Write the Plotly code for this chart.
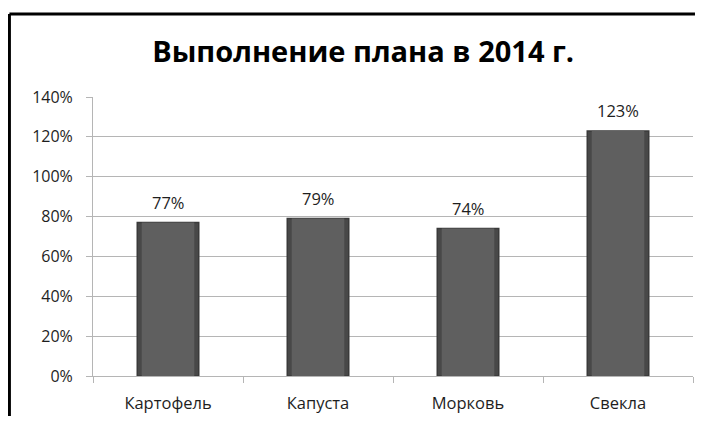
import plotly.graph_objects as go

categories = ["Картофель", "Капуста", "Морковь", "Свекла"]
values = [0.77, 0.79, 0.74, 1.23]
value_labels = ["77%", "79%", "74%", "123%"]
y_ticks = [0, 0.2, 0.4, 0.6, 0.8, 1.0, 1.2, 1.4]
y_tick_labels = ["0%", "20%", "40%", "60%", "80%", "100%", "120%", "140%"]

FONT = "Open Sans, Liberation Sans, sans-serif"
TEXT_COLOR = "#1e1e1e"
GRID = "#b5b5b5"

fig = go.Figure()

fig.add_trace(go.Bar(
    x=categories, y=values,
    width=0.41,
    marker=dict(color="#484848", line=dict(color="#3a3a3a", width=1.5)),
    hoverinfo="skip",
))
# lighter inner band to hint at the bevelled look of the original bars
fig.add_trace(go.Bar(
    x=categories, y=values,
    width=0.35,
    marker=dict(color="#5f5f5f", line=dict(width=0)),
    hoverinfo="skip",
))

# value labels above each bar
for cat, val, lab in zip(categories, values, value_labels):
    fig.add_annotation(
        x=cat, y=val, text=lab, showarrow=False,
        yanchor="bottom", yshift=7,
        font=dict(family=FONT, size=16.5, color=TEXT_COLOR),
    )

# chart frame: left and top edges only
fig.add_shape(type="line", xref="paper", yref="paper",
              x0=-0.1393, x1=-0.1393, y0=-0.2, y1=1.2975,
              line=dict(color="black", width=3))
fig.add_shape(type="line", xref="paper", yref="paper",
              x0=-0.1393, x1=1.0033, y0=1.2975, y1=1.2975,
              line=dict(color="black", width=3))

# page body keeps an 8px margin, so the figure is sized to fit without scrollbars
fig.update_layout(
    width=687, height=408,
    paper_bgcolor="white", plot_bgcolor="white",
    margin=dict(l=85, r=2, t=89, b=40),
    showlegend=False,
    barmode="overlay",
    title=dict(
        text="<b>Выполнение плана в 2014 г.</b>",
        x=0.517, xanchor="center", y=1 - 44 / 408, yanchor="middle",
        font=dict(family=FONT, size=29, color="black"),
    ),
    xaxis=dict(
        type="category",
        showline=True, linecolor=GRID, linewidth=1,
        ticks="outside", tickson="boundaries", ticklen=6, tickcolor=GRID,
        ticklabelstandoff=12,
        tickfont=dict(family=FONT, size=16.5, color=TEXT_COLOR),
        showgrid=False,
    ),
    yaxis=dict(
        range=[0, 1.4],
        tickvals=y_ticks, ticktext=y_tick_labels,
        showline=True, linecolor=GRID, linewidth=1,
        ticks="outside", ticklen=6, tickcolor=GRID,
        ticklabelstandoff=10,
        showgrid=True, gridcolor=GRID, gridwidth=1,
        zeroline=False,
        tickfont=dict(family=FONT, size=16, color=TEXT_COLOR),
    ),
)

fig.write_html("out.html")
